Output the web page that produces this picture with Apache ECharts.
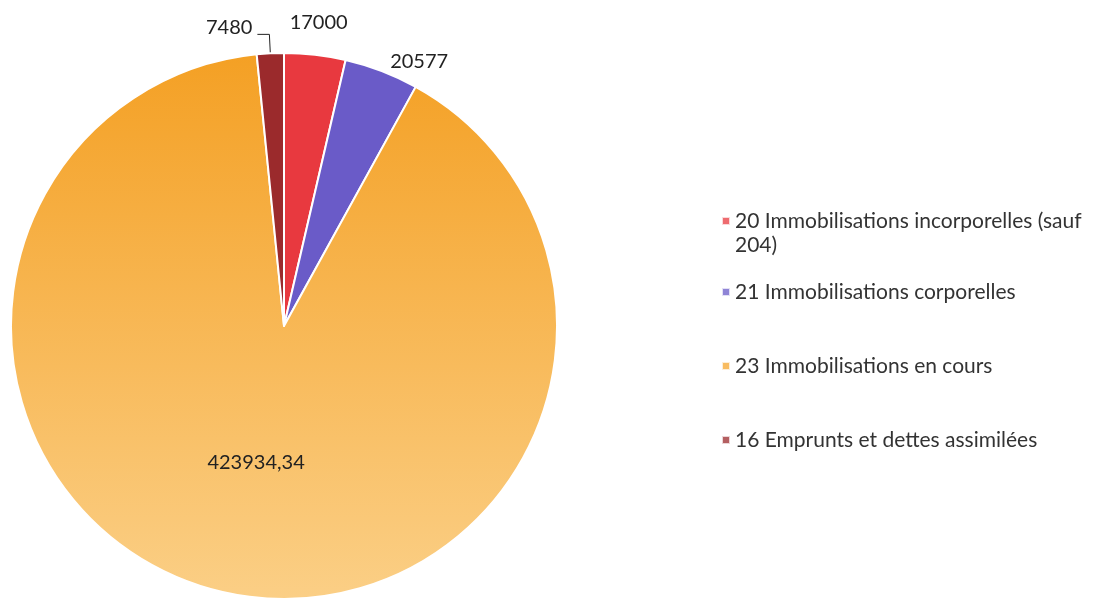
<!DOCTYPE html>
<html><head><meta charset="utf-8">
<script src="https://cdn.jsdelivr.net/npm/echarts@6/dist/echarts.min.js"></script>
<style>html,body{margin:0;padding:0;background:#fff}#c{width:1111px;height:599px}</style>
</head><body><div id="c"></div>
<script>
const categories = ["20 Immobilisations incorporelles (sauf 204)", "21 Immobilisations corporelles", "23 Immobilisations en cours", "16 Emprunts et dettes assimilées"];
const values = [17000, 20577, 423934.34, 7480];
const labels = ["17000", "20577", "423934,34", "7480"];
const colors = ["#e8393f", "#6a5bc8", "#f6a52c", "#9b2a2c"];

const chart = echarts.init(document.getElementById('c'));
const orangeGrad = new echarts.graphic.LinearGradient(0, 0, 0, 1, [
  {offset: 0, color: '#f4a024'}, {offset: 1, color: '#fbcf86'}
]);
const lineLens = [32, 10, 0, 19];
const data = values.map((v, i) => {
  const d = {name: categories[i], value: v, itemStyle: {color: i === 2 ? orangeGrad : colors[i]}};
  if (i === 2) {
    d.label = {position: 'inside', formatter: labels[i]};
  } else if (i === 3) {
    d.label = {position: 'outside', formatter: labels[i]};
    d.labelLine = {show: true, length: lineLens[i], length2: 12, lineStyle: {color: '#222', width: 1}};
  } else {
    d.label = {position: 'outside', formatter: labels[i]};
    d.labelLine = {show: false, length: lineLens[i], length2: 0};
  }
  return d;
});
const legendText = {fontFamily: 'Lato', fontSize: 21, color: '#333', lineHeight: 24};
chart.setOption({
  animation: false,
  legend: [{
    orient: 'vertical', left: 716, top: 180, itemWidth: 8, itemHeight: 8,
    icon: 'rect',
    data: [{name: categories[0], itemStyle: {color: colors[0], opacity: 0.75}}],
    formatter: () => "\n20 Immobilisations incorporelles (sauf\n204)",
    textStyle: legendText
  }, {
    orient: 'vertical', left: 716, top: 275, itemWidth: 8, itemHeight: 8, itemGap: 50,
    icon: 'rect',
    data: categories.slice(1).map((c, i) => ({name: c, itemStyle: {color: colors[i + 1], opacity: 0.75}})),
    textStyle: legendText
  }],
  series: [{
    type: 'pie', center: [284, 326], radius: 273, startAngle: 90, clockwise: true,
    avoidLabelOverlap: false,
    itemStyle: {borderColor: '#fff', borderWidth: 2},
    label: {fontFamily: 'Lato', fontSize: 20, color: '#222'},
    labelLayout: p => {
      if (p.dataIndex === 0) return {align: 'center', verticalAlign: 'middle', dx: -5};
      if (p.dataIndex === 3) return {dy: -7};
      return {};
    },
    data: data
  }]
});
</script></body></html>
